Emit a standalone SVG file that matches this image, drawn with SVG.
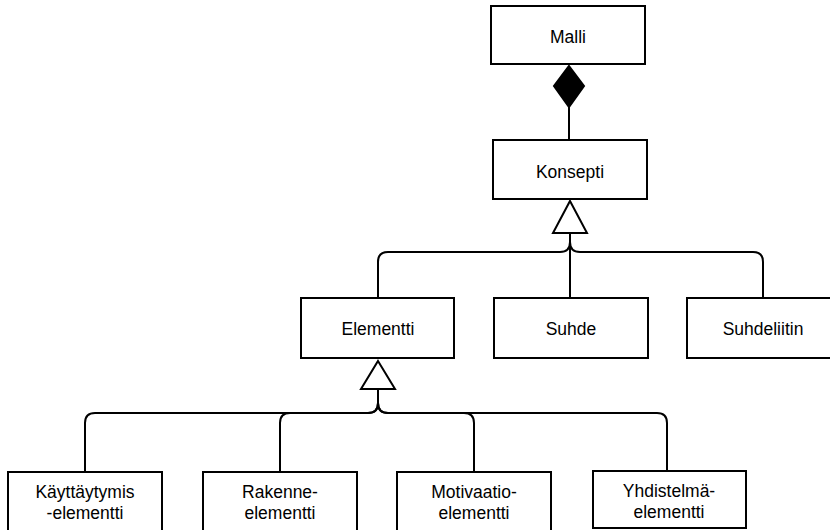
<svg xmlns="http://www.w3.org/2000/svg" width="830" height="530" viewBox="0 0 830 530">
  <style>
    .box { fill: #ffffff; stroke: #000000; stroke-width: 2; }
    .label { font-family: "Liberation Sans", Arial, Helvetica, sans-serif; font-size: 17.5px; fill: #000000; text-anchor: middle; }
    .wire { fill: none; stroke: #000000; stroke-width: 2; }
    .diamond { fill: #000000; stroke: #000000; stroke-width: 2; }
    .triangle { fill: #ffffff; stroke: #000000; stroke-width: 2; }
  </style>
  <rect width="830" height="530" fill="#ffffff"/>

  <!-- connectors -->
  <g id="connectors">
    <!-- composition: Malli <>— Konsepti -->
    <path class="wire" d="M569 107 L569 140"/>
    <polygon class="diamond" points="569,66 584,86 569,107 554,86"/>

    <!-- generalisation to Konsepti -->
    <path class="wire" d="M570 233 L570 298"/>
    <path class="wire" d="M570 233 L570 242 Q570 252 560 252 L388 252 Q378 252 378 262 L378 298"/>
    <path class="wire" d="M570 233 L570 242 Q570 252 580 252 L753 252 Q763 252 763 262 L763 298"/>
    <polygon class="triangle" points="570,201 587,233 553,233"/>

    <!-- generalisation to Elementti -->
    <path class="wire" d="M378 389 L378 403 Q378 413 368 413 L95 413 Q85 413 85 423 L85 472"/>
    <path class="wire" d="M378 389 L378 403 Q378 413 368 413 L290 413 Q280 413 280 423 L280 472"/>
    <path class="wire" d="M378 389 L378 403 Q378 413 388 413 L464 413 Q474 413 474 423 L474 472"/>
    <path class="wire" d="M378 389 L378 403 Q378 413 388 413 L657 413 Q667 413 667 423 L667 471"/>
    <polygon class="triangle" points="378,361 395,389 361,389"/>
  </g>

  <g id="malli">
    <rect class="box" x="491" y="6" width="154" height="58"/>
    <text class="label" x="568" y="43">Malli</text>
  </g>

  <g id="konsepti">
    <rect class="box" x="493" y="140" width="154" height="59"/>
    <text class="label" x="570" y="178">Konsepti</text>
  </g>

  <g id="elementti">
    <rect class="box" x="301" y="298" width="153" height="60"/>
    <text class="label" x="378" y="335">Elementti</text>
  </g>

  <g id="suhde">
    <rect class="box" x="494" y="298" width="154" height="60"/>
    <text class="label" x="571" y="335">Suhde</text>
  </g>

  <g id="suhdeliitin">
    <rect class="box" x="687" y="298" width="154" height="60"/>
    <text class="label" x="763" y="335">Suhdeliitin</text>
  </g>

  <g id="kayttaytymiselementti">
    <rect class="box" x="8" y="472" width="154" height="70"/>
    <text class="label" x="85" y="498">Käyttäytymis</text>
    <text class="label" x="85" y="519">-elementti</text>
  </g>

  <g id="rakenne-elementti">
    <rect class="box" x="203" y="472" width="154" height="70"/>
    <text class="label" x="280" y="498">Rakenne-</text>
    <text class="label" x="280" y="519">elementti</text>
  </g>

  <g id="motivaatioelementti">
    <rect class="box" x="397" y="472" width="154" height="70"/>
    <text class="label" x="474" y="498">Motivaatio-</text>
    <text class="label" x="474" y="519">elementti</text>
  </g>

  <g id="yhdistelmaelementti">
    <rect class="box" x="593" y="471" width="153" height="57"/>
    <text class="label" x="669" y="497">Yhdistelmä-</text>
    <text class="label" x="669" y="518">elementti</text>
  </g>
</svg>
